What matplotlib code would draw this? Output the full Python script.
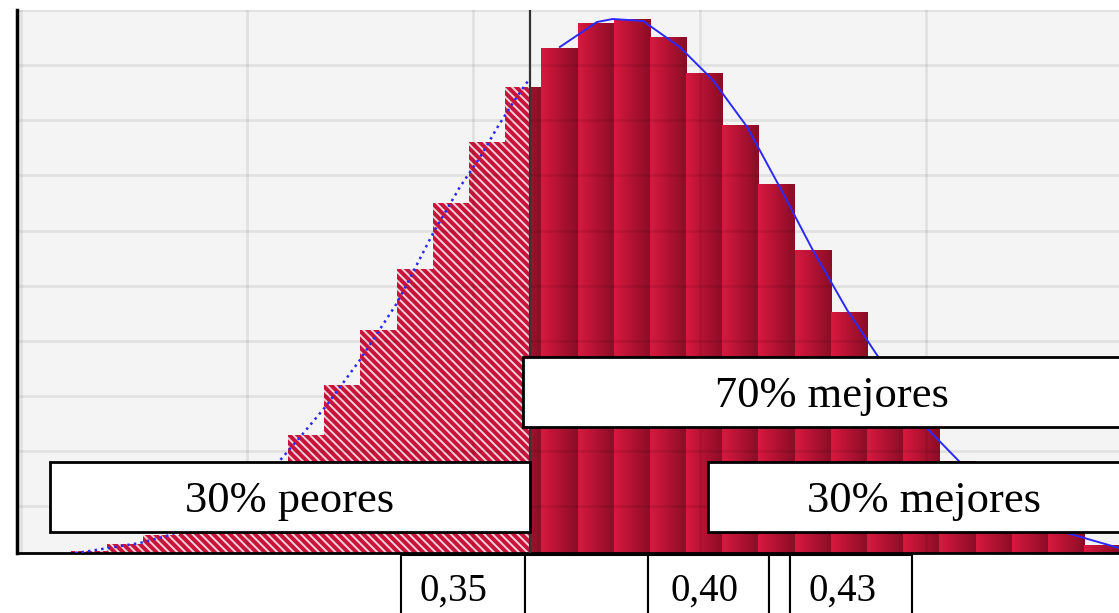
import numpy as np
import matplotlib
matplotlib.use('Agg')
import matplotlib.pyplot as plt
from matplotlib.colors import LinearSegmentedColormap
from matplotlib.patches import Rectangle

# histograma (borde izquierdo de cada clase y frecuencia)
bin_width = 0.008
bin_left = [0.2485, 0.2565, 0.2645, 0.2725, 0.2805, 0.2885, 0.2965, 0.3045,
            0.3125, 0.3205, 0.3285, 0.3365, 0.3445, 0.3525, 0.3605, 0.3685,
            0.3765, 0.3845, 0.3925, 0.4005, 0.4085, 0.4165, 0.4245, 0.4325,
            0.4405, 0.4485, 0.4565, 0.4645, 0.4725]
freq = [2, 9, 18, 35, 58, 84, 118, 168, 223, 284, 350, 411, 466, 505, 530,
        534, 516, 480, 428, 369, 303, 241, 180, 130, 92, 62, 38, 23, 8]

# curva ajustada
curve_x = [0.2494, 0.2512, 0.2638, 0.2704, 0.2771, 0.2837, 0.2892, 0.2948,
           0.2992, 0.3051, 0.3124, 0.3206, 0.3286, 0.3345, 0.3390, 0.3427,
           0.3462, 0.3500, 0.3566, 0.3648, 0.3683, 0.3750, 0.3831, 0.3904,
           0.3980, 0.4052, 0.4125, 0.4201, 0.4267, 0.4377, 0.4450, 0.4539,
           0.4605, 0.4687, 0.4802]
curve_y = [0, 1, 10, 18, 31, 48, 69, 93, 116, 148, 193, 250, 320, 366, 396,
           425, 450, 475, 506, 531, 534, 532, 506, 473, 426, 366, 303, 243,
           198, 125, 91, 61, 38, 20, 5]

cut = 0.35  # percentil 30
grid_x = [0.2375, 0.2875, 0.3375, 0.3875, 0.4375]
grid_y = [47, 102.1, 157.2, 212.3, 267.4, 322.5, 377.6, 432.7, 487.8, 542.9]

W, H = 1119, 613
fig = plt.figure(figsize=(W / 100, H / 100), dpi=100)
ax = fig.add_axes([17 / W, 60 / H, (W - 17) / W, 543 / H])
ax.set_facecolor('#f4f4f4')

plt.rcParams['hatch.linewidth'] = 1.4
cmap = LinearSegmentedColormap.from_list('barra', ['#d8183f', '#8a0d26'])
grad = np.linspace(0, 1, 64).reshape(1, -1)

for x0, h in zip(bin_left, freq):
    x1 = x0 + bin_width
    # parte rayada (30% peores)
    if x0 < cut:
        ax.bar(x0, h, width=min(x1, cut) - x0, align='edge', color='#c8143a',
               edgecolor='#f6d2d9', linewidth=0, hatch='\\\\\\\\', zorder=1)
    # parte con degradado
    if x1 > cut:
        s = max(x0, cut)
        im = ax.imshow(grad, extent=(x0, x1, 0, h), cmap=cmap, aspect='auto',
                       interpolation='bilinear', zorder=1)
        clip = Rectangle((s, 0), x1 - s, h, transform=ax.transData)
        im.set_clip_path(clip)

cx = np.array(curve_x)
cy = np.array(curve_y)
left = cx <= cut
ax.plot(cx[left], cy[left], ':', color='#2a2aff', lw=1.8, zorder=3)
ax.plot(cx[~left], cy[~left], '-', color='#2a2aff', lw=1.4, zorder=3)

ax.axvline(cut, color='#333333', lw=1.6, zorder=4)

ax.set_xticks(grid_x)
ax.set_yticks(grid_y)
ax.grid(True, color='black', alpha=0.075, lw=2)
ax.set_axisbelow(False)
ax.tick_params(length=0, labelbottom=False, labelleft=False)
ax.set_xlim(0.2366, 0.4802)
ax.set_ylim(0, 543)
for side in ['top', 'right']:
    ax.spines[side].set_visible(False)
ax.spines['left'].set_linewidth(2.5)
ax.spines['bottom'].set_linewidth(2)


def caja(x0, y0, x1, y1, texto='', size=32, tx=None, ty=None, lw=2):
    fig.add_artist(Rectangle((x0 / W, 1 - y1 / H), (x1 - x0) / W, (y1 - y0) / H,
                             transform=fig.transFigure, facecolor='white',
                             edgecolor='black', lw=lw, zorder=5, clip_on=False))
    if texto:
        ha = 'center'
        if tx is None:
            tx = (x0 + x1) / 2
        else:
            ha = 'left'
        if ty is None:
            ty = (y0 + y1) / 2 + 4
        fig.text(tx / W, 1 - ty / H, texto, ha=ha, va='center',
                 fontsize=size, family='Liberation Serif', zorder=6)


caja(50, 462, 530, 532, '30% peores')
caja(523, 357, 1130, 427, '70% mejores')
fig.texts[-1].set_x(832 / W)
caja(708, 462, 1130, 532, '30% mejores')
fig.texts[-1].set_x(924 / W)

caja(401, 555, 525, 625, '0,35', size=28, tx=420, ty=591, lw=1.5)
caja(525, 555, 648, 625, lw=1.5)
caja(648, 555, 769, 625, '0,40', size=28, tx=670, ty=591, lw=1.5)
caja(769, 555, 790, 625, lw=1.5)
caja(790, 555, 912, 625, '0,43', size=28, tx=808, ty=591, lw=1.5)

fig.savefig('out.png', dpi=100)
